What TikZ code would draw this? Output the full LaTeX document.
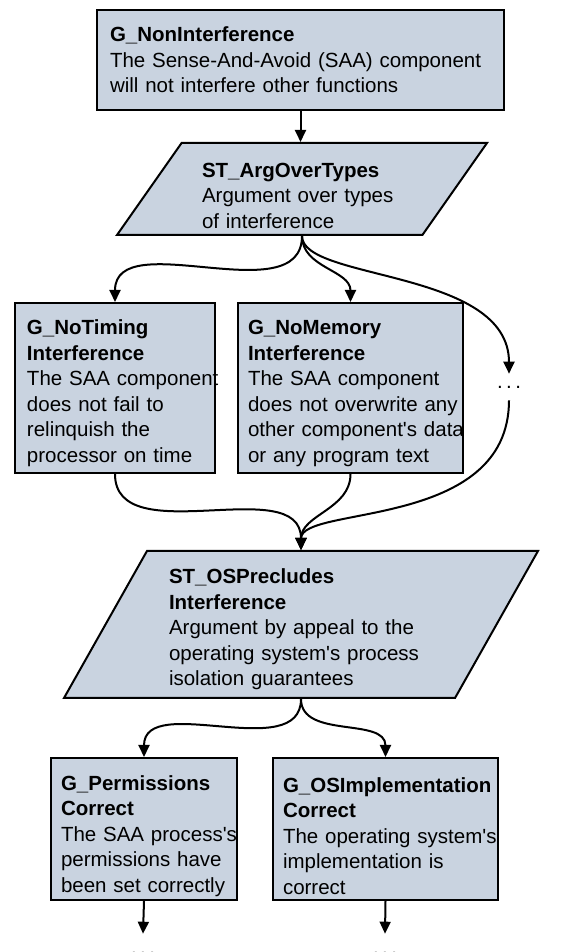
\documentclass[tikz,border=0pt]{standalone}
\usepackage{fontspec}
\setmainfont{Liberation Sans}
\usetikzlibrary{shapes.geometric, arrows.meta}
\hyphenpenalty=10000
\exhyphenpenalty=10000
\definecolor{gsnblue}{HTML}{C9D3E0}
\def \gsnfont {\fontsize{20.5}{25.5}\selectfont}
\def \gsndots {.\,.\,.}
\tikzstyle{goal}=[rectangle, draw, line width=2pt, fill=gsnblue, align=left, font=\gsnfont, inner ysep=0pt]
\tikzstyle{strategy}=[trapezium, draw, line width=2pt, fill=gsnblue, align=left, font=\gsnfont, inner ysep=0pt, trapezium stretches body]
\tikzstyle{more}=[font=\gsnfont, inner xsep=0pt]
\tikzstyle{link}=[->, line width=2pt]

\begin{document}
\begin{tikzpicture}[x=1pt, y=1pt, >={Triangle[length=12pt, width=11pt]}]
\useasboundingbox (0,0) rectangle (574,952);

\node[goal, inner xsep=13pt, text width=381pt, minimum height=100pt] (gNonInt) at (300.5, 892) {\textbf{G\_NonInterference}\\The~Sense-And-Avoid~(SAA)~component\\will not interfere other functions};

\node[strategy, text width=200pt, text height=28pt, trapezium left angle=50.8, trapezium right angle=129.2, minimum width=370pt, minimum height=92pt] (stArgTypes) at (302, 763) {\textbf{ST\_ArgOverTypes}\\Argument over types\\of interference};

\node[goal, text height=25pt, inner xsep=12pt, text width=176pt, minimum height=170pt] (gNoTiming) at (115, 564) {\textbf{G\_NoTiming}\\\textbf{Interference}\\The~SAA~component\\does not fail to\\relinquish the\\processor~on~time};
\node[goal, text height=25pt, inner xsep=10pt, text width=205pt, minimum height=170pt] (gNoMemory) at (350.5, 564) {\textbf{G\_NoMemory}\\\textbf{Interference}\\The~SAA~component\\does~not~overwrite~any\\other~component\textquotesingle s~data\\or any program text};
\node[more, inner ysep=12pt] (moreTypes) at (509, 565) {\gsndots};

\node[strategy, text width=264pt, text height=25pt, trapezium left angle=57.7, trapezium right angle=122.3, minimum width=474pt, minimum height=147pt] (stOSPrecl) at (301, 327.5) {\textbf{ST\_OSPrecludes}\\\textbf{Interference}\\Argument by appeal to the\\operating system\textquotesingle s process\\isolation guarantees};

\node[goal, text height=29pt, inner xsep=10pt, text width=166pt, minimum height=142pt] (gPerm) at (144, 123) {\textbf{G\_Permissions}\\\textbf{Correct}\\The~SAA~process\textquotesingle s\\permissions~have\\been~set~correctly};
\node[goal, text height=29pt, inner xsep=10pt, text width=205pt, minimum height=142pt] (gOSImpl) at (385.5, 123) {\textbf{G\_OSImplementation}\\\textbf{Correct}\\The~operating~system\textquotesingle s\\implementation is\\correct};
\node[more, inner ysep=18pt] (morePerm) at (143, -1) {\gsndots};
\node[more, inner ysep=18pt] (moreOSImpl) at (385, -1) {\gsndots};

\draw[link] (gNonInt.south) -- (gNonInt.south |- stArgTypes.north);

\draw[link] (stArgTypes.center |- stArgTypes.south) to[out=-90, in=90] (gNoTiming.north);
\draw[link] (stArgTypes.center |- stArgTypes.south) to[out=-90, in=90] (gNoMemory.north);
\draw[link] (stArgTypes.center |- stArgTypes.south) .. controls +(0,-45) and +(0,105) .. (moreTypes.north);

\draw[link] (gNoTiming.south) to[out=-90, in=90] (stOSPrecl.center |- stOSPrecl.north);
\draw[link] (gNoMemory.south) to[out=-90, in=90] (stOSPrecl.center |- stOSPrecl.north);
\draw[link] (moreTypes.south) .. controls +(0,-130) and +(0,45) .. (stOSPrecl.center |- stOSPrecl.north);

\draw[link] (stOSPrecl.center |- stOSPrecl.south) to[out=-90, in=90] (gPerm.north);
\draw[link] (stOSPrecl.center |- stOSPrecl.south) to[out=-90, in=90] (gOSImpl.north);

\draw[link] (gPerm.south) -- (morePerm.north);
\draw[link] (gOSImpl.south) -- (moreOSImpl.north);

\end{tikzpicture}
\end{document}
